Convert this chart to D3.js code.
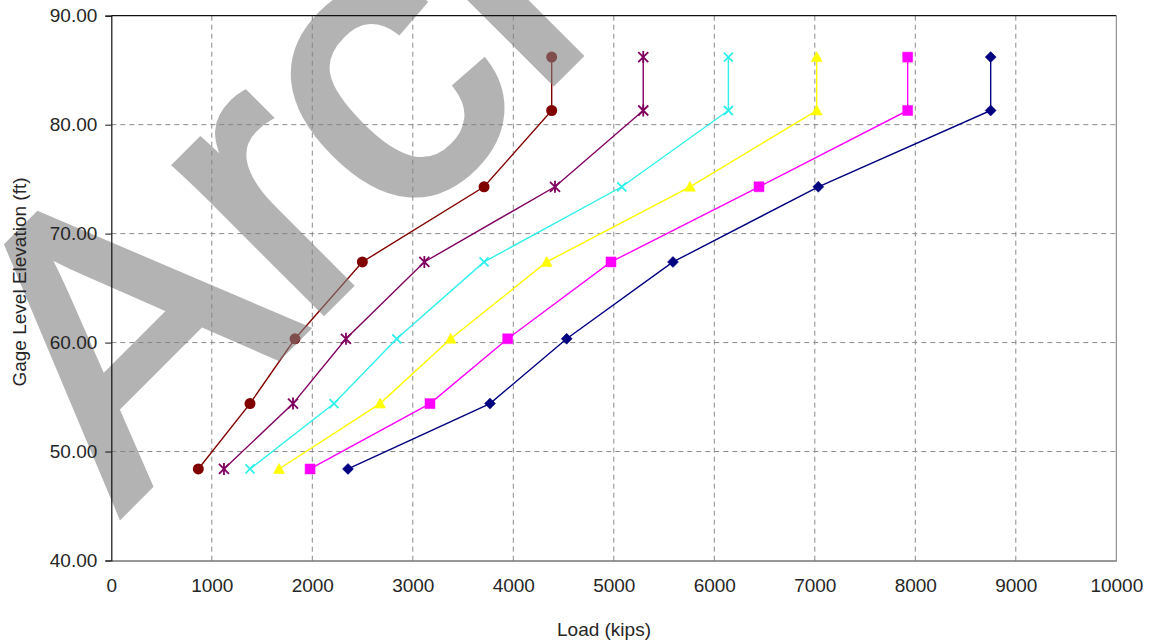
<!DOCTYPE html>
<html>
<head>
<meta charset="utf-8">
<script src="https://cdn.jsdelivr.net/npm/d3@7"></script>
<style>
  html, body { margin: 0; padding: 0; background: #ffffff; }
  svg { display: block; font-family: "Liberation Sans", Arial, sans-serif; }
</style>
</head>
<body>
<svg id="chart" width="1151" height="644"></svg>
<script>
// ---- data ----
const elevations = [48.4, 54.4, 60.35, 67.4, 74.3, 81.3, 86.2];
const loadsNavy    = [2355, 3768, 4531, 5589, 7035, 8750, 8750];
const loadsMagenta = [1978, 3171, 3944, 4972, 6445, 7924, 7924];
const loadsYellow  = [1669, 2674, 3377, 4332, 5758, 7019, 7019];
const loadsCyan    = [1380, 2216, 2840, 3709, 5079, 6140, 6140];
const loadsPurple  = [1121, 1808, 2335, 3115, 4415, 5293, 5293];
const loadsBrown   = [866, 1380, 1828, 2498, 3709, 4382, 4382];
const seriesNames  = ["navy", "magenta", "yellow", "cyan", "purple", "brown"];
const xTicks = [0, 1000, 2000, 3000, 4000, 5000, 6000, 7000, 8000, 9000, 10000];
const yTicks = [40, 50, 60, 70, 80, 90];
const xTitle = "Load (kips)";
const yTitle = "Gage Level Elevation (ft)";
const watermarkText = "Archived";

(function () {
// ---- styling ----
const styles = {
  navy:    { color: "#000080", marker: "diamond" },
  magenta: { color: "#ff00ff", marker: "square" },
  yellow:  { color: "#ffff00", marker: "triangle" },
  cyan:    { color: "#2ff0ea", marker: "x" },
  purple:  { color: "#800060", marker: "star" },
  brown:   { color: "#800000", marker: "circle" }
};
const seriesData = [loadsNavy, loadsMagenta, loadsYellow, loadsCyan, loadsPurple, loadsBrown];

const svg = d3.select("#chart");
const pLeft = 111.3, pTop = 15.7, pRight = 1116.3, pBottom = 560.5;

const x = d3.scaleLinear().domain([0, 10000]).range([pLeft, pRight]);
const y = d3.scaleLinear().domain([40, 90]).range([pBottom, pTop]);

svg.append("rect").attr("width", 1151).attr("height", 644).attr("fill", "#fff");

// gridlines
const grid = svg.append("g");
grid.selectAll("line.vg").data(xTicks.filter(d => d > 0 && d < 10000)).join("line")
  .attr("x1", d => x(d)).attr("x2", d => x(d)).attr("y1", pTop).attr("y2", pBottom)
  .attr("stroke", "#8a8a8a").attr("stroke-width", 1).attr("stroke-dasharray", "5,4");
grid.selectAll("line.hg").data(yTicks.filter(d => d > 40 && d < 90)).join("line")
  .attr("x1", pLeft).attr("x2", pRight).attr("y1", d => y(d)).attr("y2", d => y(d))
  .attr("stroke", "#8a8a8a").attr("stroke-width", 1).attr("stroke-dasharray", "5,4");

// series
const line = d3.line().x(d => x(d[0])).y(d => y(d[1]));
function markerPath(type) {
  switch (type) {
    case "diamond": return "M0,-5.5L5.5,0L0,5.5L-5.5,0Z";
    case "square": return "M-5,-5H5V5H-5Z";
    case "triangle": return "M0,-5.5L5.5,4.5H-5.5Z";
    case "x": return "M-4.5,-4.5L4.5,4.5M-4.5,4.5L4.5,-4.5";
    case "star": return "M-5,-5L5,5M-5,5L5,-5M0,-6V6";
    default: return null;
  }
}
const plot = svg.append("g");
seriesNames.forEach((name, i) => {
  const st = styles[name];
  const pts = seriesData[i].map((v, j) => [v, elevations[j]]);
  const g = plot.append("g");
  g.append("path").attr("d", line(pts)).attr("fill", "none")
    .attr("stroke", st.color).attr("stroke-width", 1.4);
  if (st.marker === "circle") {
    g.selectAll("circle").data(pts).join("circle")
      .attr("cx", d => x(d[0])).attr("cy", d => y(d[1])).attr("r", 5.5)
      .attr("fill", st.color);
  } else {
    const open = st.marker === "x" || st.marker === "star";
    g.selectAll("path.m").data(pts).join("path").attr("class", "m")
      .attr("transform", d => `translate(${x(d[0])},${y(d[1])})`)
      .attr("d", markerPath(st.marker))
      .attr("fill", open ? "none" : st.color)
      .attr("stroke", st.color).attr("stroke-width", open ? 1.8 : 0.5);
  }
});

// watermark
svg.append("text")
  .attr("transform", "translate(121,513) rotate(-45)")
  .attr("font-family", "'Liberation Sans', Arial, sans-serif")
  .attr("font-size", 390)
  .attr("fill", "#828282").attr("stroke", "#828282").attr("stroke-width", 9)
  .attr("stroke-linejoin", "miter")
  .attr("opacity", 0.6)
  .text(watermarkText);

// frame
svg.append("line").attr("x1", pLeft).attr("x2", pRight).attr("y1", pTop).attr("y2", pTop)
  .attr("stroke", "#111").attr("stroke-width", 1.2);
svg.append("line").attr("x1", pRight).attr("x2", pRight).attr("y1", pTop).attr("y2", pBottom)
  .attr("stroke", "#777").attr("stroke-width", 1);

// axes
const xAxis = d3.axisBottom(x).tickValues(xTicks).tickSize(0).tickPadding(18).tickFormat(d3.format("d"));
const gx = svg.append("g").attr("transform", `translate(0,${pBottom})`).call(xAxis);
gx.select(".domain").attr("stroke", "#333").attr("stroke-width", 1.2);
gx.selectAll("text").attr("font-size", 19).attr("fill", "#262626")
  .attr("font-family", "'Liberation Sans', Arial, sans-serif");

const yAxis = d3.axisLeft(y).tickValues(yTicks).tickSize(6).tickPadding(8).tickFormat(d3.format(".2f"));
const gy = svg.append("g").attr("transform", `translate(${pLeft},0)`).call(yAxis);
gy.select(".domain").attr("stroke", "#111").attr("stroke-width", 1.2);
gy.selectAll(".tick line").attr("stroke", "#111");
gy.selectAll("text").attr("font-size", 19).attr("fill", "#262626")
  .attr("font-family", "'Liberation Sans', Arial, sans-serif");

// titles
svg.append("text").attr("x", 604).attr("y", 636).attr("text-anchor", "middle")
  .attr("font-size", 19).attr("fill", "#262626").text(xTitle);
svg.append("text").attr("transform", "translate(26,282) rotate(-90)")
  .attr("text-anchor", "middle").attr("font-size", 19).attr("fill", "#262626").text(yTitle);
})();
</script>
</body>
</html>
